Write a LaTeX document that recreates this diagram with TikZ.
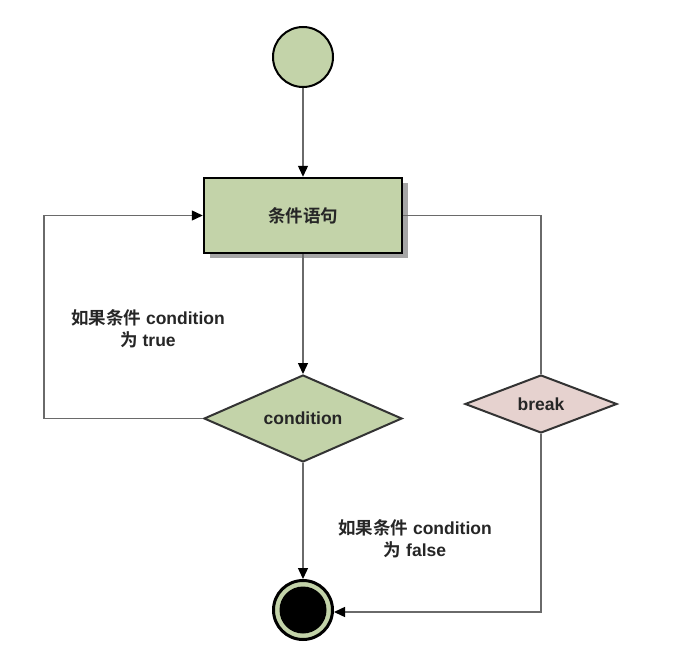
\documentclass[tikz,border=0pt]{standalone}
\usepackage{fontspec}
\setmainfont{Liberation Sans}
\newfontfamily\cjk{Noto Sans CJK SC}[BoldFont={Noto Sans CJK SC Bold}]
\usetikzlibrary{shapes.geometric,arrows.meta}
\definecolor{sage}{HTML}{C3D3A9}
\definecolor{rosy}{HTML}{E6D2CF}
\definecolor{linec}{HTML}{6A6A6A}
\definecolor{edge}{HTML}{333333}
\tikzset{
  conn/.style={draw=linec, line width=1.4pt},
  arr/.style={conn, -{Triangle[length=11pt,width=10pt,color=black]}},
  lbl/.style={font=\fontsize{17.5}{22}\selectfont\bfseries, align=center, text=black!85},
  rectbox/.style={draw=black, line width=2.5pt, fill=sage, minimum width=198pt, minimum height=75pt, inner sep=0pt},
  cond/.style={diamond, draw=edge, line width=2pt, fill=sage, minimum width=198pt, minimum height=87pt, inner sep=0pt, aspect=2.3},
  brk/.style={diamond, draw=edge, line width=2pt, fill=rosy, minimum width=152pt, minimum height=58pt, inner sep=0pt, aspect=2.6},
}
\begin{document}
\begin{tikzpicture}[x=1pt,y=-1pt]
\useasboundingbox[fill=white] (0,0) rectangle (697,653);
% start
\node[circle, draw=black, line width=2pt, fill=sage, minimum size=60pt, inner sep=0pt] (start) at (303,57) {};
% statement box with shadow
\fill[gray!70] (210,183) rectangle (408,258);
\node[rectbox, lbl] (stmt) at (303,215.5) {\cjk 条件语句};
% condition diamond
\node[cond, lbl] (cond) at (303,418.5) {condition};
% break diamond
\node[brk, lbl] (brk) at (541,404) {break};
% end
\node[circle, draw=black, line width=3pt, fill=sage, minimum size=59pt, inner sep=0pt] (end) at (303,610) {};
\node[circle, fill=black, minimum size=47pt, inner sep=0pt] (endin) at (end.center) {};
% coordinates
\coordinate (lt) at (44,418.5);
\coordinate (lb) at (44,215.5);
\coordinate (rt) at (541,215.5);
\coordinate (rb) at (541,612);
% connectors
\draw[arr] (start) -- (stmt);
\draw[arr] (stmt) -- (cond.north);
\draw[arr] (cond.west) -- (lt) -- (lb) -- (stmt.west);
\draw[arr] (cond.south) -- (end.north);
\draw[conn] (stmt.east) -- (rt) -- (brk.north);
\draw[arr] (brk.south) -- (rb) -- (end.east |- rb);
% labels
\node[lbl] (ltrue) at (148,329) {{\cjk 如果条件} condition\\{\cjk 为} true};
\node[lbl] (lfalse) at (415,539) {{\cjk 如果条件} condition\\{\cjk 为} false};
\end{tikzpicture}
\end{document}
